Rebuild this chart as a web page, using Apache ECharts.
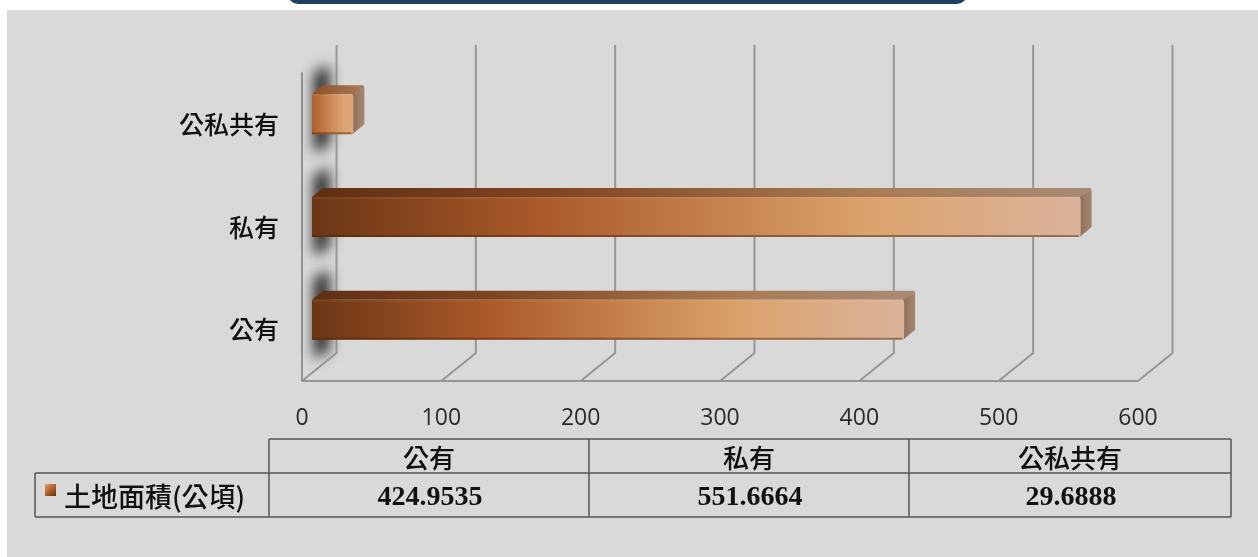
<!DOCTYPE html>
<html><head><meta charset="utf-8">
<style>html,body{margin:0;padding:0;background:#fff}#c{width:1258px;height:557px}</style>
<script src="https://cdn.jsdelivr.net/npm/echarts@6/dist/echarts.min.js"></script>
</head><body><div id="c"></div>
<script>
const categories = ['公有','私有','公私共有'];
const landArea = [424.9535, 551.6664, 29.6888];
const landAreaText = ['424.9535','551.6664','29.6888'];
const tickValues = [0,100,200,300,400,500,600];
const seriesName = '土地面積(公頃)';

const CJK = '"Noto Sans CJK TC",sans-serif';
const NUM = '"Liberation Serif",serif';
const SANS = '"Open Sans",sans-serif';
const GRID = {left:302, right:120, top:73, bottom:176};
const W = 1258, H = 557;
const DX = 34.5, DY = -28;
const LINE = '#969696';
const TBL = '#555';

function hGrad(stops){
  return {type:'linear',x:0,y:0,x2:1,y2:0,colorStops:stops.map(s=>({offset:s[0],color:s[1]}))};
}
const frontStops = [[0,'#6b3615'],[0.3,'#ab5a2a'],[0.72,'#dba26c'],[1,'#dbb39b']];
const topStops   = [[0,'#5f2f12'],[0.3,'#7f4522'],[0.72,'#a87c55'],[1,'#a98a74']];
const shortFront = [[0,'#b0602b'],[0.75,'#dca272'],[1,'#dca878']];
const shortTop   = [[0,'#8f4f24'],[1,'#a87c58']];

function renderShadow(params, api){
  const p = api.coord([0, api.value(1)]);
  const h = api.size([0,1])[1];
  const x0 = p[0], cy = p[1];
  const off = 3000;
  return {type:'polygon', silent:true,
    shape:{points:[[x0+12-off,cy-h*0.5],[x0+27-off,cy-h*0.58],[x0+27-off,cy+h*0.2],[x0+12-off,cy+h*0.28]]},
    style:{fill:'#222',shadowColor:'rgba(30,30,30,1)',shadowBlur:14,shadowOffsetX:off,shadowOffsetY:0}};
}
function renderFrame(params, api){
  const v = api.value(0);
  const cs = params.coordSys;
  const x = api.coord([v,0])[0];
  const yb = cs.y + cs.height, yt = cs.y;
  return {type:'polyline', silent:true,
    shape:{points:[[x,yb],[x+DX,yb+DY],[x+DX,yt+DY]]},
    style:{stroke:LINE,lineWidth:2,fill:null}};
}
function renderBar(params, api){
  const p = api.coord([api.value(0), api.value(1)]);
  const o = api.coord([0, api.value(1)]);
  const band = api.size([0,1])[1];
  const t = band*0.39;
  const l = o[0]+10, r = p[0]+10, yT = p[1]-10-t/2, yB = yT+t;
  const sx = 11, sy = -9;
  const short = (r-l) < 100;
  const f = short ? shortFront : frontStops, tp = short ? shortTop : topStops;
  return {type:'group', silent:true, children:[
    {type:'polygon',shape:{points:[[l,yT],[l+sx,yT+sy],[r+sx-1,yT+sy],[r+sx,yT+sy+2],[r,yT]]},style:{fill:hGrad(tp)}},
    {type:'polygon',shape:{points:[[r-1,yT],[r+sx,yT+sy+2],[r+sx,yB+sy-1],[r-1,yB]]},
      style:{fill:{type:'linear',x:0,y:0,x2:1,y2:0,colorStops:[{offset:0,color:'#8f6f5a'},{offset:1,color:'#a58771'}]}}},
    {type:'rect',shape:{x:l,y:yT,width:r-l,height:t,r:[0,3,3,0]},style:{fill:hGrad(f)}},
    {type:'rect',shape:{x:l,y:yT,width:r-l-2,height:2},style:{fill:'rgba(255,220,190,0.07)'}},
    {type:'rect',shape:{x:l,y:yB-2,width:r-l-2,height:2},style:{fill:'rgba(70,30,5,0.45)'}}
  ]};
}

const cols = [269,589,909,1231], rows = [439,473,517], keyLeft = 35;
const g = [];
function ln(x1,y1,x2,y2){g.push({type:'line',silent:true,shape:{x1,y1,x2,y2},style:{stroke:TBL,lineWidth:1.5}});}
ln(cols[0],rows[0],cols[3],rows[0]);
ln(keyLeft,rows[1],cols[3],rows[1]);
ln(keyLeft,rows[2],cols[3],rows[2]);
ln(keyLeft,rows[1],keyLeft,rows[2]);
cols.forEach(x=>ln(x,rows[0],x,rows[2]));
g.push({type:'rect',silent:true,shape:{x:45,y:484,width:11,height:12},
  style:{fill:{type:'linear',x:0,y:0,x2:1,y2:1,colorStops:[{offset:0,color:'#dca272'},{offset:0.5,color:'#b0602b'},{offset:1,color:'#65330f'}]}}});
g.push({type:'text',silent:true,x:64,y:497,style:{text:seriesName,font:'500 27px '+CJK,fill:'#111',textAlign:'left',textVerticalAlign:'middle'}});
categories.forEach((c,i)=>{
  const cx = (cols[i]+cols[i+1])/2;
  g.push({type:'text',silent:true,x:cx,y:458,style:{text:c,font:'500 26px '+CJK,fill:'#111',textAlign:'center',textVerticalAlign:'middle'}});
  g.push({type:'text',silent:true,x:cx+1,y:498,style:{text:landAreaText[i],font:'bold 28px '+NUM,fill:'#111',textAlign:'center',textVerticalAlign:'middle'}});
});
g.push({type:'rect',silent:true,z:-1,shape:{x:7,y:10,width:W-7,height:H-10},style:{fill:'#d9d9d9'}});
g.push({type:'rect',silent:true,shape:{x:288,y:-20,width:679,height:24,r:10},style:{fill:'#1f3f66'}});

const chart = echarts.init(document.getElementById('c'),null,{renderer:'canvas'});
chart.setOption({
  animation:false,
  backgroundColor:'#fff',
  grid:GRID,
  tooltip:{show:false},
  legend:{show:false},
  xAxis:{type:'value',min:0,max:600,interval:100,
    axisLine:{show:true,lineStyle:{color:LINE,width:2}},
    axisTick:{show:false},splitLine:{show:false},
    axisLabel:{margin:26,fontFamily:SANS,fontSize:23,color:'#2a2a2a'}},
  yAxis:{type:'category',data:categories,
    axisLine:{show:true,lineStyle:{color:LINE,width:2}},
    axisTick:{show:false},splitLine:{show:false},
    axisLabel:{margin:23,fontFamily:CJK,fontSize:25,fontWeight:500,color:'#111',padding:[8,0,0,0]}},
  graphic:{elements:g},
  series:[
    {type:'custom',name:'shadow',coordinateSystem:'cartesian2d',clip:false,z:1,silent:true,
      data:landArea.map((v,i)=>[v,i]),encode:{x:0,y:1},renderItem:renderShadow},
    {type:'custom',name:'frame',coordinateSystem:'cartesian2d',clip:false,z:2,silent:true,
      data:tickValues.map(v=>[v]),encode:{x:0},renderItem:renderFrame},
    {type:'custom',name:seriesName,coordinateSystem:'cartesian2d',clip:false,z:3,silent:true,
      data:landArea.map((v,i)=>[v,i]),encode:{x:0,y:1},renderItem:renderBar}
  ]
});
</script></body></html>
